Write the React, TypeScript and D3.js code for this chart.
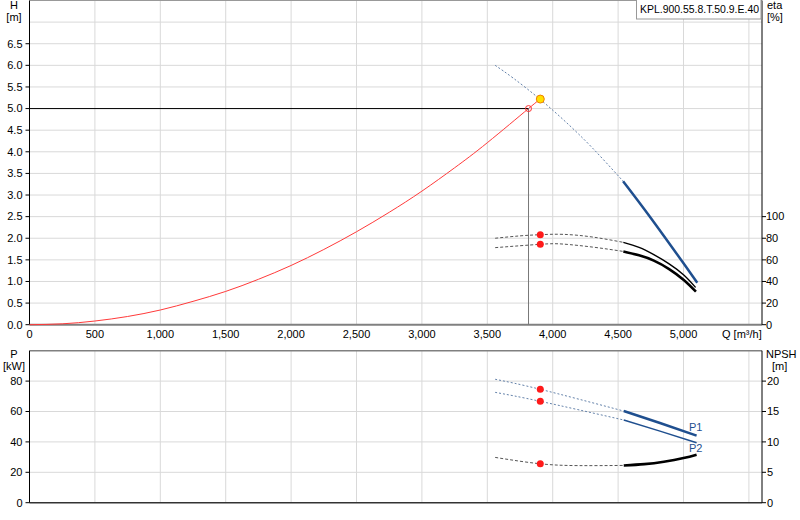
import React from 'react';
import * as d3 from 'd3';

// ---------- data ----------
const qTicks = [0, 500, 1000, 1500, 2000, 2500, 3000, 3500, 4000, 4500, 5000];
const qGrid = [500, 1000, 1500, 2000, 2500, 3000, 3500, 4000, 4500, 5000, 5500];
const hTicks = [0, 0.5, 1, 1.5, 2, 2.5, 3, 3.5, 4, 4.5, 5, 5.5, 6, 6.5];
const hGrid = [0.5, 1, 1.5, 2, 2.5, 3, 3.5, 4, 4.5, 5, 5.5, 6, 6.5, 7];
const etaTicks = [0, 20, 40, 60, 80, 100];
const pTicks = [0, 20, 40, 60, 80];
const npshTicks = [0, 5, 10, 15, 20];

// system curve
const sysQ = [0, 250, 500, 750, 1000, 1250, 1500, 1750, 2000, 2250, 2500, 2750, 3000, 3250, 3500, 3815, 3905];
const sysH = [0, 0.02, 0.085, 0.19, 0.34, 0.54, 0.77, 1.05, 1.37, 1.74, 2.15, 2.6, 3.09, 3.63, 4.21, 5.0, 5.22];

// pump head curve
const hDashQ = [3560, 3700, 3905, 4100, 4300, 4538];
const hDashH = [6.0, 5.7, 5.21, 4.69, 4.1, 3.32];
const hSolidQ = [4538, 4750, 5000, 5105];
const hSolidH = [3.32, 2.47, 1.42, 0.97];

// efficiency curves
const eta1DashQ = [3560, 3750, 3905, 4080, 4300, 4540];
const eta1DashV = [80, 82.2, 83.3, 83.6, 81.2, 76.2];
const eta1SolidQ = [4540, 4660, 4773, 4890, 5002, 5092];
const eta1SolidV = [76.2, 71.5, 64.8, 56.3, 46, 34.5];
const eta2DashQ = [3560, 3905, 4080, 4313, 4540];
const eta2DashV = [71.3, 74.4, 74.6, 71.7, 67.8];
const eta2SolidQ = [4540, 4660, 4773, 4890, 5002, 5095];
const eta2SolidV = [67.8, 64.2, 59.3, 51.5, 41.4, 30.6];

// power curves
const p1DashQ = [3560, 3905, 4543];
const p1DashV = [81.2, 74.6, 60.3];
const p1SolidQ = [4543, 4820, 5100];
const p1SolidV = [60.3, 52.4, 44.1];
const p2DashQ = [3560, 3905, 4543];
const p2DashV = [72.6, 66.7, 54.4];
const p2SolidQ = [4543, 4820, 5100];
const p2SolidV = [54.4, 47.1, 39.5];

// NPSH curve
const npshDashQ = [3560, 3905, 4200, 4543];
const npshDashV = [7.45, 6.4, 6.1, 6.13];
const npshSolidQ = [4543, 4700, 4850, 5000, 5100];
const npshSolidV = [6.13, 6.35, 6.75, 7.35, 7.9];

// duty points
const dutyQ = 3815;
const dutyH = 5.0;
const opQ = 3905;
const opH = 5.22;
const opEta1 = 83.3;
const opEta2 = 74.4;
const opP1 = 74.6;
const opP2 = 66.7;
const opNpsh = 6.4;

const title = 'KPL.900.55.8.T.50.9.E.40';

const fmt = d3.format(',');
const fmt1 = d3.format('.1f');

export default function App() {
  const L = 29.5, R = 762;
  const topT = 0.5, topB = 324.7;
  const botT = 350.7, botB = 502.7;

  const x = d3.scaleLinear().domain([0, 5600]).range([L, R]);
  const yH = d3.scaleLinear().domain([0, 7.5]).range([topB, topT]);
  const yEta = d3.scaleLinear().domain([0, 300]).range([topB, topT]);
  const yP = d3.scaleLinear().domain([0, 100]).range([botB, botT]);
  const yN = d3.scaleLinear().domain([0, 25]).range([botB, botT]);

  const mk = (qs: number[], vs: number[], ys: d3.ScaleLinear<number, number>) =>
    d3.line<number>().x((_, i) => x(qs[i])).y((_, i) => ys(vs[i])).curve(d3.curveNatural)(qs) || '';

  const font = { fontFamily: 'Liberation Sans, Arial, sans-serif', fontSize: 11 };
  const gridC = '#d9d9d9';
  const blue = '#1f4f8f';
  const dashBlue = '#6482aa';

  return (
    <svg width={800} height={520} style={{ position: 'absolute', left: 0, top: 0, background: '#fff' }}>
      <rect x={0} y={0} width={800} height={520} fill="#fff" />
      <g {...font}>
        {/* ---------- top grid ---------- */}
        {qGrid.map((q) => (
          <line key={'vg' + q} x1={x(q)} x2={x(q)} y1={topT} y2={topB} stroke={gridC} strokeWidth={1} />
        ))}
        {hGrid.map((h) => (
          <line key={'hg' + h} x1={L} x2={R} y1={yH(h)} y2={yH(h)} stroke={gridC} strokeWidth={1} />
        ))}
        {/* bottom grid */}
        {qGrid.map((q) => (
          <line key={'vgb' + q} x1={x(q)} x2={x(q)} y1={botT} y2={botB} stroke={gridC} strokeWidth={1} />
        ))}
        {pTicks.filter((p) => p > 0).map((p) => (
          <line key={'pg' + p} x1={L} x2={R} y1={yP(p)} y2={yP(p)} stroke={gridC} strokeWidth={1} />
        ))}

        {/* ---------- top frame ---------- */}
        <line x1={L} x2={R} y1={topT} y2={topT} stroke="#999" strokeWidth={1} />
        <line x1={L} x2={R} y1={topB} y2={topB} stroke="#808080" strokeWidth={2} />
        <line x1={L} x2={L} y1={topT} y2={topB} stroke="#000" strokeWidth={1} />
        <line x1={R} x2={R} y1={topT} y2={topB} stroke="#000" strokeWidth={1} />

        {/* bottom frame */}
        <line x1={L} x2={R} y1={botT} y2={botT} stroke="#808080" strokeWidth={1.5} />
        <line x1={L} x2={R} y1={botB} y2={botB} stroke="#333" strokeWidth={1.5} />
        <line x1={L} x2={L} y1={botT} y2={botB} stroke="#000" strokeWidth={1} />
        <line x1={R} x2={R} y1={botT} y2={botB} stroke="#000" strokeWidth={1} />

        {/* ---------- top axes ---------- */}
        {hTicks.map((h) => (
          <g key={'ht' + h}>
            <line x1={L - 4} x2={L} y1={yH(h)} y2={yH(h)} stroke="#000" />
            <text x={22.5} y={yH(h)} dy="0.35em" textAnchor="end">{fmt1(h)}</text>
          </g>
        ))}
        <text x={14} y={9} textAnchor="middle">H</text>
        <text x={14} y={21} textAnchor="middle">[m]</text>

        {etaTicks.map((e) => (
          <g key={'et' + e}>
            <line x1={R} x2={R + 4} y1={yEta(e)} y2={yEta(e)} stroke="#000" />
            <text x={766} y={yEta(e)} dy="0.35em" textAnchor="start">{e}</text>
          </g>
        ))}
        <text x={767} y={9}>eta</text>
        <text x={767} y={21}>[%]</text>

        {qTicks.map((q) => (
          <text key={'qt' + q} x={x(q)} y={338} textAnchor="middle">{fmt(q)}</text>
        ))}
        <text x={722} y={338}>Q [m³/h]</text>

        {/* ---------- bottom axes ---------- */}
        {pTicks.map((p) => (
          <g key={'pt' + p}>
            <line x1={L - 4} x2={L} y1={yP(p)} y2={yP(p)} stroke="#000" />
            <text x={22.5} y={yP(p)} dy="0.35em" textAnchor="end">{p}</text>
          </g>
        ))}
        <text x={14} y={358} textAnchor="middle">P</text>
        <text x={14} y={370} textAnchor="middle">[kW]</text>

        {npshTicks.map((n) => (
          <g key={'nt' + n}>
            <line x1={R} x2={R + 4} y1={yN(n)} y2={yN(n)} stroke="#000" />
            <text x={767} y={yN(n)} dy="0.35em" textAnchor="start">{n}</text>
          </g>
        ))}
        <text x={766} y={358}>NPSH</text>
        <text x={772} y={370}>[m]</text>

        {/* ---------- top curves ---------- */}
        <path d={mk(sysQ, sysH, yH)} fill="none" stroke="#ff3a3a" strokeWidth={1} />
        <line x1={L} x2={x(dutyQ)} y1={yH(dutyH)} y2={yH(dutyH)} stroke="#000" strokeWidth={1} />
        <line x1={x(dutyQ)} x2={x(dutyQ)} y1={yH(dutyH)} y2={topB} stroke="#777" strokeWidth={1} />

        <path d={mk(hDashQ, hDashH, yH)} fill="none" stroke={dashBlue} strokeWidth={1} strokeDasharray="2,2" />
        <path d={mk(hSolidQ, hSolidH, yH)} fill="none" stroke={blue} strokeWidth={2.5} />

        <path d={mk(eta1DashQ, eta1DashV, yEta)} fill="none" stroke="#555" strokeWidth={1} strokeDasharray="3,2" />
        <path d={mk(eta1SolidQ, eta1SolidV, yEta)} fill="none" stroke="#000" strokeWidth={1.4} />
        <path d={mk(eta2DashQ, eta2DashV, yEta)} fill="none" stroke="#555" strokeWidth={1} strokeDasharray="3,2" />
        <path d={mk(eta2SolidQ, eta2SolidV, yEta)} fill="none" stroke="#000" strokeWidth={2.6} />

        <circle cx={x(dutyQ)} cy={yH(dutyH)} r={3} fill="none" stroke="#ff3030" strokeWidth={1} />
        <circle cx={x(opQ)} cy={yH(opH)} r={4} fill="#ffe000" stroke="#f08000" strokeWidth={1} />
        <circle cx={x(opQ)} cy={yEta(opEta1)} r={3.5} fill="#ff1a1a" />
        <circle cx={x(opQ)} cy={yEta(opEta2)} r={3.5} fill="#ff1a1a" />

        {/* ---------- bottom curves ---------- */}
        <path d={mk(p1DashQ, p1DashV, yP)} fill="none" stroke={dashBlue} strokeWidth={1} strokeDasharray="2,2" />
        <path d={mk(p1SolidQ, p1SolidV, yP)} fill="none" stroke={blue} strokeWidth={2.5} />
        <path d={mk(p2DashQ, p2DashV, yP)} fill="none" stroke={dashBlue} strokeWidth={1} strokeDasharray="2,2" />
        <path d={mk(p2SolidQ, p2SolidV, yP)} fill="none" stroke={blue} strokeWidth={1.5} />
        <path d={mk(npshDashQ, npshDashV, yN)} fill="none" stroke="#555" strokeWidth={1} strokeDasharray="3,2" />
        <path d={mk(npshSolidQ, npshSolidV, yN)} fill="none" stroke="#000" strokeWidth={2.6} />

        <circle cx={x(opQ)} cy={yP(opP1)} r={3.5} fill="#ff1a1a" />
        <circle cx={x(opQ)} cy={yP(opP2)} r={3.5} fill="#ff1a1a" />
        <circle cx={x(opQ)} cy={yN(opNpsh)} r={3.5} fill="#ff1a1a" />

        <text x={689} y={431} fill={blue}>P1</text>
        <text x={689} y={452} fill={blue}>P2</text>

        {/* ---------- title box ---------- */}
        <rect x={636.5} y={-0.5} width={124.5} height={19.5} fill="#fff" stroke="#999" strokeWidth={1} />
        <text x={640} y={12.5} textLength={119} lengthAdjust="spacingAndGlyphs">{title}</text>
      </g>
    </svg>
  );
}
